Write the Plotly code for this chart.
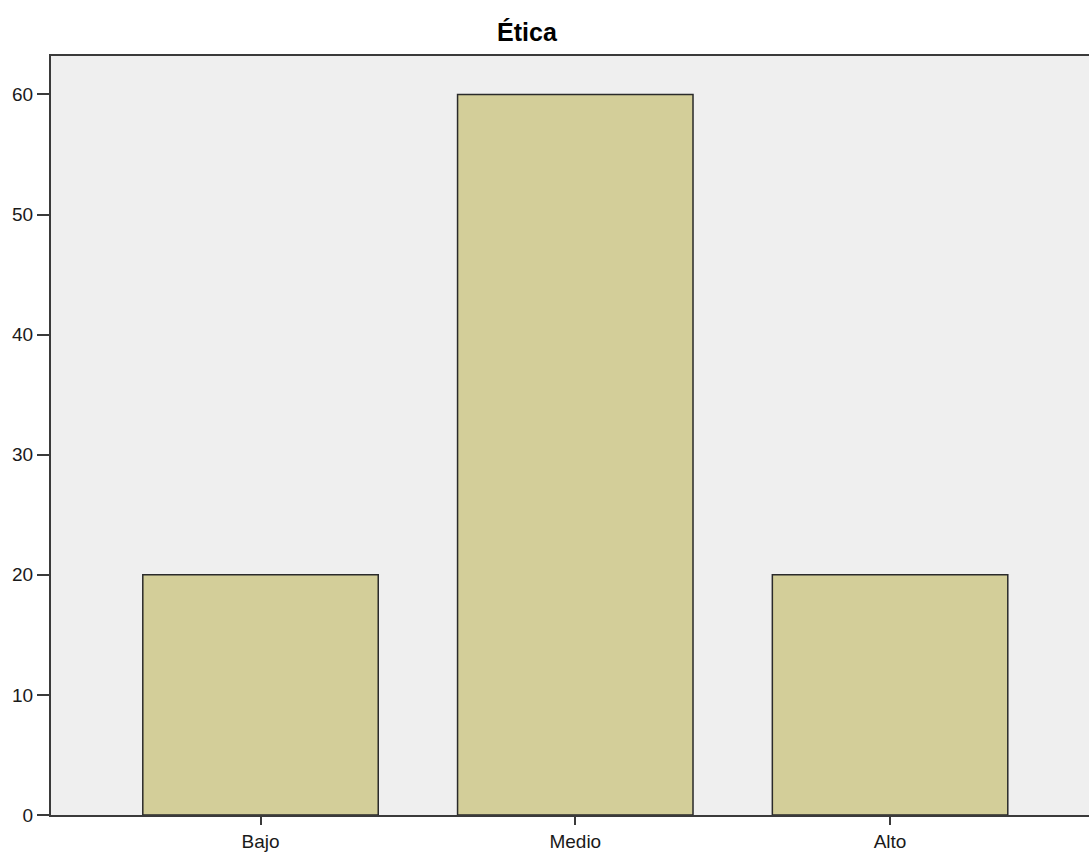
import plotly.graph_objects as go

categories = ["Bajo", "Medio", "Alto"]
values = [20, 60, 20]
y_ticks = [0, 10, 20, 30, 40, 50, 60]
title_text = "Ética"

FONT = "Liberation Sans, Arial, sans-serif"

fig = go.Figure()
fig.add_trace(go.Bar(
    x=categories,
    y=values,
    width=0.748,
    marker=dict(color="#D3CE99", line=dict(color="#2A2A2A", width=1.5)),
    hoverinfo="x+y",
))

fig.update_layout(
    width=1089,
    height=852,
    margin=dict(l=51, r=0, t=56, b=34, pad=0),
    paper_bgcolor="white",
    plot_bgcolor="#EFEFEF",
    showlegend=False,
    font=dict(family=FONT, size=19, color="#1A1A1A"),
    title=dict(
        text="<b>" + title_text + "</b>",
        x=527 / 1089,
        xref="container",
        xanchor="center",
        y=1 - 32 / 852,
        yref="container",
        yanchor="middle",
        font=dict(size=25, color="#000000", family=FONT),
    ),
    xaxis=dict(
        type="category",
        range=[-0.6656, 2.632],
        showgrid=False,
        zeroline=False,
        showline=True,
        linecolor="#3A3A3A",
        linewidth=2,
        mirror=True,
        ticks="outside",
        ticklen=8,
        tickwidth=1.5,
        tickcolor="#3A3A3A",
        tickfont=dict(size=19, color="#1A1A1A"),
        fixedrange=True,
    ),
    yaxis=dict(
        range=[0, 63.2],
        tickvals=y_ticks,
        showgrid=False,
        zeroline=False,
        showline=True,
        linecolor="#3A3A3A",
        linewidth=2,
        mirror=False,
        ticks="outside",
        ticklen=12,
        tickwidth=1.5,
        tickcolor="#3A3A3A",
        tickfont=dict(size=19, color="#1A1A1A"),
        fixedrange=True,
    ),
)

fig.write_html(
    "out.html",
    config={"displayModeBar": False},
    post_script="document.body.style.margin='0';",
)
